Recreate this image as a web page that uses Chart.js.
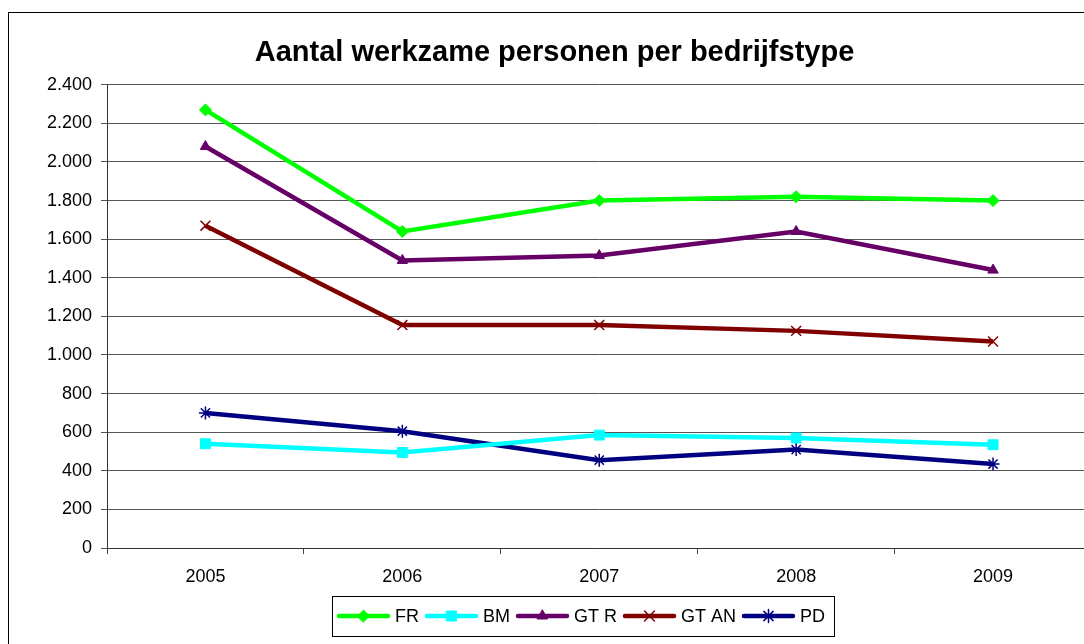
<!DOCTYPE html>
<html>
<head>
<meta charset="utf-8">
<script src="https://cdn.jsdelivr.net/npm/chart.js@4/dist/chart.umd.min.js"></script>
<style>
html,body{margin:0;padding:0;overflow:hidden;background:#fff;width:1084px;height:644px;}
canvas{display:block;}
</style>
</head>
<body>
<canvas id="c" width="1100" height="644"></canvas>
<script>
const years = ['2005', '2006', '2007', '2008', '2009'];
const FR = [2270, 1640, 1800, 1820, 1800];
const BM = [540, 495, 585, 570, 535];
const GTR = [2080, 1490, 1515, 1640, 1440];
const GTAN = [1670, 1155, 1155, 1125, 1070];
const PD = [700, 605, 455, 510, 435];
const seriesNames = ['FR', 'BM', 'GT R', 'GT AN', 'PD'];
const yTicks = [0, 200, 400, 600, 800, 1000, 1200, 1400, 1600, 1800, 2000, 2200, 2400];
const titleText = 'Aantal werkzame personen per bedrijfstype';

const FONT = 'Liberation Sans, Arial, sans-serif';

function ds(label, data, color, style, radius, bw) {
  return {
    label, data,
    borderColor: color, backgroundColor: color,
    pointBackgroundColor: color, pointBorderColor: color,
    borderWidth: 4.5, pointStyle: style, pointRadius: radius,
    pointHoverRadius: radius, pointBorderWidth: bw, tension: 0
  };
}

const frame = {
  id: 'frame',
  beforeDraw(chart) {
    const ctx = chart.ctx;
    ctx.save();
    ctx.strokeStyle = '#000';
    ctx.lineWidth = 1;
    ctx.strokeRect(8.5, 12.5, 1200, 800);
    ctx.restore();
  }
};

const legendPlugin = {
  id: 'customLegend',
  afterDraw(chart) {
    const ctx = chart.ctx;
    ctx.save();
    ctx.font = '18px ' + FONT;
    ctx.textBaseline = 'middle';
    const lineW = 53, gapT = 5, gapItem = 6, padL = 5, padR = 9;
    const items = chart.data.datasets.map(d => ({d, tw: ctx.measureText(d.label).width}));
    let total = padL + padR;
    items.forEach((it, i) => { total += lineW + gapT + it.tw + (i < items.length - 1 ? gapItem : 0); });
    const left = 583 - total / 2, top = 596, h = 40, cy = top + h / 2;
    ctx.strokeStyle = '#000';
    ctx.lineWidth = 1;
    ctx.strokeRect(Math.round(left) + 0.5, top + 0.5, Math.round(total), h);
    let x = left + padL;
    items.forEach(it => {
      const d = it.d;
      ctx.strokeStyle = d.borderColor;
      ctx.lineWidth = d.borderWidth;
      ctx.lineCap = 'round';
      ctx.beginPath();
      ctx.moveTo(x + 2, cy);
      ctx.lineTo(x + lineW - 2, cy);
      ctx.stroke();
      ctx.fillStyle = d.pointBackgroundColor;
      ctx.strokeStyle = d.pointBorderColor;
      ctx.lineWidth = d.pointBorderWidth;
      Chart.helpers.drawPoint(ctx, {pointStyle: d.pointStyle, radius: d.pointRadius, borderWidth: d.pointBorderWidth, rotation: 0}, x + lineW / 2, cy);
      ctx.fillStyle = '#000';
      ctx.fillText(d.label, x + lineW + gapT, cy + 1);
      x += lineW + gapT + it.tw + gapItem;
    });
    ctx.restore();
  }
};

new Chart(document.getElementById('c'), {
  type: 'line',
  data: {
    labels: years,
    datasets: [
      ds(seriesNames[0], FR, '#00FF00', 'rectRot', 6, 1),
      ds(seriesNames[1], BM, '#00FFFF', 'rect', 7, 1),
      ds(seriesNames[2], GTR, '#660066', 'triangle', 6, 1),
      ds(seriesNames[3], GTAN, '#800000', 'crossRot', 7, 1.5),
      ds(seriesNames[4], PD, '#000080', 'star', 6.5, 1.5)
    ]
  },
  plugins: [frame, legendPlugin],
  options: {
    responsive: false,
    animation: false,
    devicePixelRatio: 1,
    layout: {padding: {left: 17, right: 8, top: 0, bottom: 0}},
    plugins: {
      legend: {display: false},
      tooltip: {enabled: false},
      title: {
        display: true,
        text: titleText,
        color: '#000',
        font: {family: FONT, size: 29, weight: 'bold', lineHeight: 1.2},
        padding: {top: 36, bottom: 14}
      }
    },
    scales: {
      x: {
        offset: true,
        grid: {display: true, drawOnChartArea: false, drawTicks: true, tickLength: 6, color: '#444', offset: true},
        border: {display: true, color: '#333', width: 1},
        ticks: {color: '#000', font: {family: FONT, size: 18}, padding: 12, maxRotation: 0},
        afterFit(s) { s.height = 96; }
      },
      y: {
        min: 0, max: 2400,
        afterBuildTicks(s) { s.ticks = yTicks.map(v => ({value: v})); },
        grid: {color: '#555', lineWidth: 1, drawTicks: true, tickLength: 6},
        border: {display: true, color: '#333', width: 1},
        ticks: {
          color: '#000', font: {family: FONT, size: 18}, padding: 9,
          callback: v => String(v).replace(/\B(?=(\d{3})+(?!\d))/g, '.')
        },
        afterFit(s) { s.width = 90; }
      }
    }
  }
});
</script>
</body>
</html>
